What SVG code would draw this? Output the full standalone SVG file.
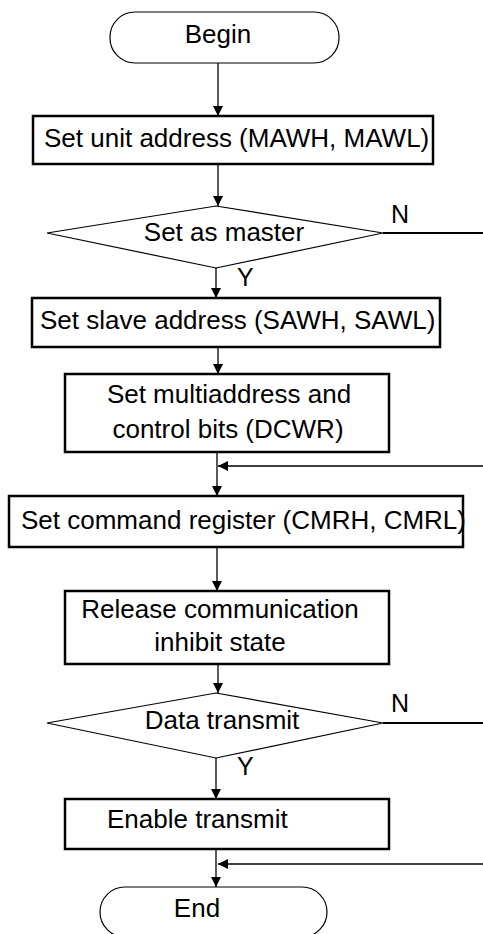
<svg xmlns="http://www.w3.org/2000/svg" width="483" height="934" viewBox="0 0 483 934">
<style>
.box{fill:#fff;stroke:#000;stroke-width:2.5}
.term{fill:#fff;stroke:#000;stroke-width:1.2}
.dia{fill:#fff;stroke:#000;stroke-width:1.2}
.ln{fill:none;stroke:#000;stroke-width:1.3}
.nl{fill:none;stroke:#000;stroke-width:2}
text{font-family:"Liberation Sans",Arial,sans-serif;font-size:26px;fill:#000}
.lb{font-size:25px}
</style>
<defs>
<marker id="ah" markerWidth="10" markerHeight="10" refX="10" refY="5" orient="auto" markerUnits="userSpaceOnUse" viewBox="0 0 10 10">
<path d="M0,0 L10,5 L0,10 z" fill="#000"/>
</marker>
</defs>
<g id="connectors">
<line class="ln" x1="218" y1="63" x2="218" y2="116" marker-end="url(#ah)"/>
<line class="ln" x1="218" y1="164" x2="218" y2="206" marker-end="url(#ah)"/>
<line class="ln" x1="216" y1="268" x2="216" y2="298" marker-end="url(#ah)"/>
<line class="ln" x1="218" y1="347" x2="218" y2="374" marker-end="url(#ah)"/>
<line class="ln" x1="217" y1="452" x2="217" y2="496" marker-end="url(#ah)"/>
<line class="ln" x1="483" y1="466" x2="218" y2="466" marker-end="url(#ah)"/>
<line class="nl" x1="383" y1="233" x2="483" y2="233"/>
<line class="ln" x1="217" y1="547" x2="217" y2="591" marker-end="url(#ah)"/>
<line class="ln" x1="218" y1="664" x2="218" y2="693" marker-end="url(#ah)"/>
<line class="ln" x1="216" y1="758" x2="216" y2="799" marker-end="url(#ah)"/>
<line class="nl" x1="383" y1="723" x2="483" y2="723"/>
<line class="ln" x1="216" y1="849" x2="216" y2="887" marker-end="url(#ah)"/>
<line class="ln" x1="483" y1="864" x2="218" y2="864" marker-end="url(#ah)"/>
<text class="lb" x="391" y="223">N</text>
<text class="lb" x="237" y="286">Y</text>
<text class="lb" x="391" y="712">N</text>
<text class="lb" x="237" y="775">Y</text>
</g>
<g id="begin">
<rect class="term" x="110" y="12" width="229" height="51" rx="25" ry="25"/>
<text x="218" y="43" text-anchor="middle">Begin</text>
</g>
<g id="set-unit-address">
<rect class="box" x="33" y="116" width="400" height="48"/>
<text x="44" y="147">Set unit address (MAWH, MAWL)</text>
</g>
<g id="set-as-master">
<polygon class="dia" points="216,206 383,233 216,268 47,233"/>
<text x="224" y="241" text-anchor="middle">Set as master</text>
</g>
<g id="set-slave-address">
<rect class="box" x="32" y="298" width="408" height="49"/>
<text x="40" y="329">Set slave address (SAWH, SAWL)</text>
</g>
<g id="set-multiaddress">
<rect class="box" x="65" y="374" width="324" height="78"/>
<text x="229" y="403" text-anchor="middle">Set multiaddress and</text>
<text x="228" y="438" text-anchor="middle">control bits (DCWR)</text>
</g>
<g id="set-command-register">
<rect class="box" x="9" y="496" width="454" height="51"/>
<text x="21" y="529">Set command register (CMRH, CMRL)</text>
</g>
<g id="release-inhibit">
<rect class="box" x="65" y="591" width="324" height="73"/>
<text x="220" y="618" text-anchor="middle">Release communication</text>
<text x="220" y="651" text-anchor="middle">inhibit state</text>
</g>
<g id="data-transmit">
<polygon class="dia" points="216,693 383,723 216,758 47,723"/>
<text x="222" y="729" text-anchor="middle">Data transmit</text>
</g>
<g id="enable-transmit">
<rect class="box" x="65" y="799" width="324" height="50"/>
<text x="107" y="828">Enable transmit</text>
</g>
<g id="end">
<rect class="term" x="100" y="887" width="227" height="50" rx="25" ry="25"/>
<text x="197" y="917" text-anchor="middle">End</text>
</g>
</svg>
